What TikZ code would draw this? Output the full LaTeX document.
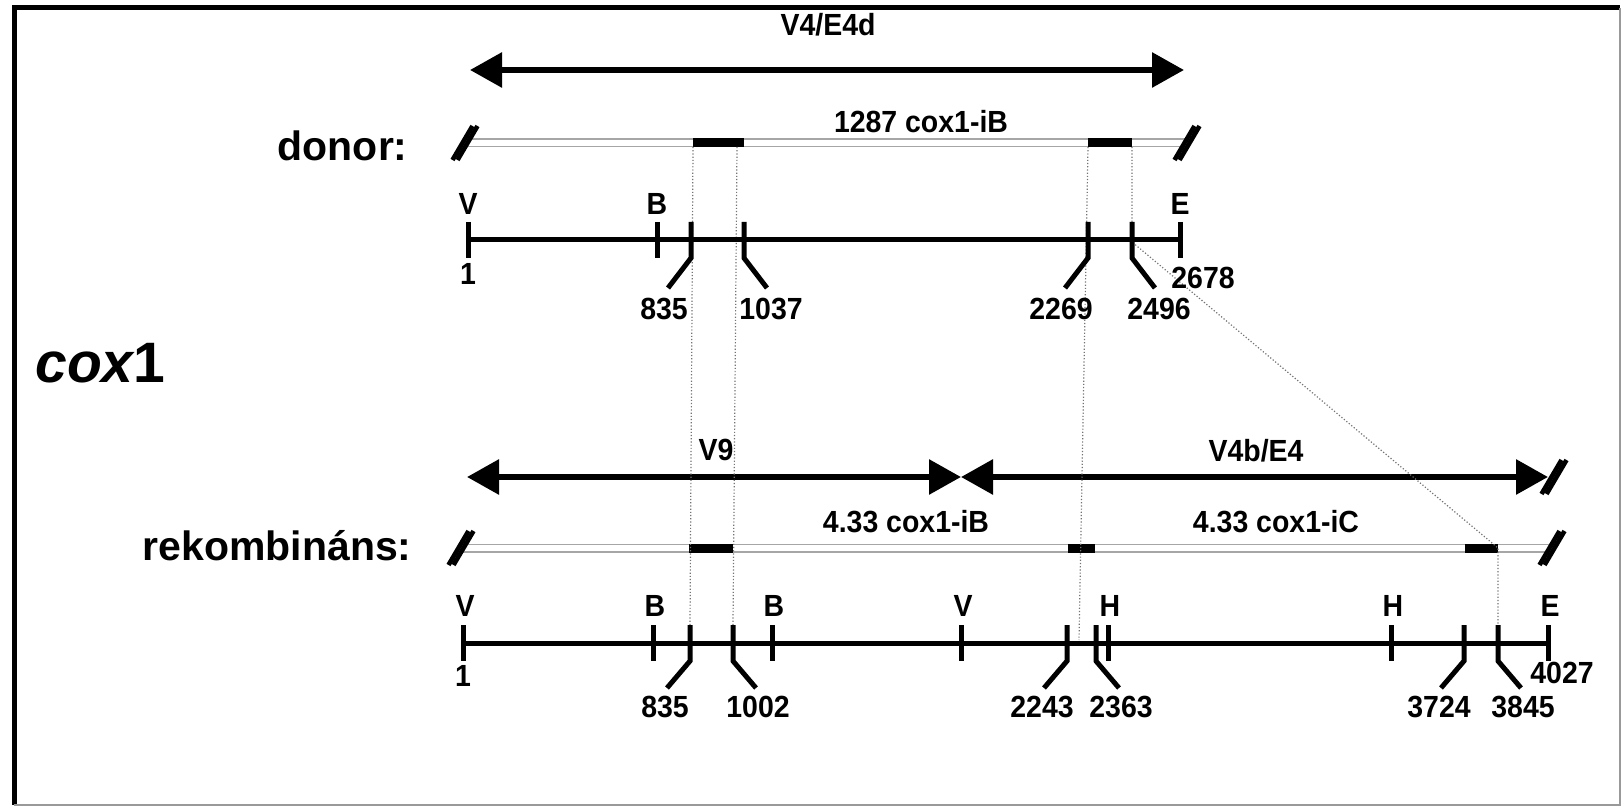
\documentclass[tikz,border=0pt]{standalone}
\usepackage{fontspec}
\setmainfont{Liberation Sans}
\newfontfamily\lblfont{Liberation Sans}[FakeStretch=0.93]
\usetikzlibrary{arrows.meta,calc}

\begin{document}
\begin{tikzpicture}[
    x=0.5pt, y=-0.5pt,
    lbl/.style={font=\lblfont\fontsize{15.3}{17}\selectfont\bfseries, inner sep=0pt},
    side/.style={font=\fontsize{20.5}{23}\selectfont\bfseries, inner sep=0pt, anchor=east},
    span/.style={line width=3pt, {Triangle[length=16pt,width=17pt]}-{Triangle[length=16pt,width=17pt]}},
    mapline/.style={line width=2.5pt},
    tickmark/.style={line width=2.5pt},
    strand/.style={line width=4.5pt, gray!70},
    strandin/.style={line width=3pt, white},
    exon/.style={line width=4.5pt},
    brk/.style={line width=2.3pt},
    guide/.style={densely dotted, gray!90!black, line width=0.6pt},
    frame/.style={line width=2.5pt},
]
\useasboundingbox (0,0) rectangle (1622,807);
% Frame
\draw[frame] (14,805) -- (14,8) -- (1620,8);
\draw[line width=1pt, gray!80] (14,805) -- (1620,805) -- (1620,8);

% Labels at the side
\node[font=\fontsize{28.5}{31}\selectfont\bfseries, inner sep=0pt, anchor=west] (gene) at (35,363) {\itshape cox\upshape 1};
\node[side] (donor) at (408,146) {donor:};
\node[side] (rekomb) at (412,546) {rekombináns:};

% Donor: span arrow
\coordinate (dL) at (470,70);
\coordinate (dR) at (1184,70);
\draw[span] (dL) -- (dR);
\node[lbl] (v4e4d) at (828,25) {V4/E4d};

% Donor: strand
\coordinate (dsL) at (465,143);
\coordinate (dsR) at (1187,143);
\draw[strand] (dsL) -- (dsR);
\draw[strandin] (dsL) -- (dsR);
\draw[exon] (693,143) -- (744,143);
\draw[exon] (1088,143) -- (1132,143);
\node[lbl] (dintron) at (921,122) {1287 cox1-iB};
\foreach \c in {dsL,dsR}
  \foreach \o in {-2.5,2.5}
    \draw[brk] ($(\c)+(\o-10,17)$) -- ($(\c)+(\o+10,-17)$);

% Recombinant: span arrows
\coordinate (rL) at (467,477);
\coordinate (rM) at (961,477);
\coordinate (rR) at (1548,477);
\draw[span] (rL) -- (rM);
\draw[span] (rM) -- (rR);
\node[lbl] (v9) at (716,450) {V9};
\node[lbl] (v4be4) at (1256,451) {V4b/E4};
\foreach \o in {-2.5,2.5}
  \draw[brk] ($(rR)+(\o-4,17)$) -- ($(rR)+(\o+16,-17)$);

% Recombinant: strand
\coordinate (rsL) at (461,548);
\coordinate (rsR) at (1552,548);
\draw[strand] (rsL) -- (rsR);
\draw[strandin] (rsL) -- (rsR);
\draw[exon] (689,548) -- (733,548);
\draw[exon] (1068,548) -- (1095,548);
\draw[exon] (1465,548) -- (1498,548);
\node[lbl] (rintronB) at (906,522) {4.33 cox1-iB};
\node[lbl] (rintronC) at (1276,522) {4.33 cox1-iC};
\foreach \c in {rsL,rsR}
  \foreach \o in {-2.5,2.5}
    \draw[brk] ($(\c)+(\o-10,17)$) -- ($(\c)+(\o+10,-17)$);

% Dotted guides
\draw[guide] (693,147) -- (690,625);
\draw[guide] (737,147) -- (733,625);
\draw[guide] (1088,147) -- (1079,640);
\draw[guide] (1132,147) -- (1132,242) -- (1498,548) -- (1498,625);

% Donor map
\draw[mapline] (468,240) -- (1180,240);
\foreach \x/\t in {468/V, 657/B, 1180/E} {
  \draw[tickmark] (\x,222) -- (\x,258);
  \node[lbl] at (\x,204) {\t};
}
\foreach \x/\d/\t in {691/-1/835, 744/1/1037, 1088/-1/2269, 1132/1/2496} {
  \draw[tickmark] (\x,222) -- (\x,258) -- (\x+\d*23,288);
  \node[lbl] at (\x+\d*27,309) {\t};
}
\node[lbl] (dstart) at (468,274) {1};
\node[lbl] (dend) at (1203,278) {2678};

% Recombinant map
\draw[mapline] (463,643) -- (1548,643);
\foreach \x/\t in {463/V, 653/B, 772/B, 961/V, 1108/H, 1391/H, 1548/E} {
  \draw[tickmark] (\x,625) -- (\x,661);
  \node[lbl] at (\x+2,606) {\t};
}
\foreach \x/\d/\t in {690/-1/835, 733/1/1002, 1067/-1/2243, 1096/1/2363, 1464/-1/3724, 1498/1/3845} {
  \draw[tickmark] (\x,625) -- (\x,661) -- (\x+\d*23,688);
  \node[lbl] at (\x+\d*25,707) {\t};
}
\node[lbl] (rstart) at (463,676) {1};
\node[lbl] (rend) at (1562,673) {4027};
\end{tikzpicture}
\end{document}
